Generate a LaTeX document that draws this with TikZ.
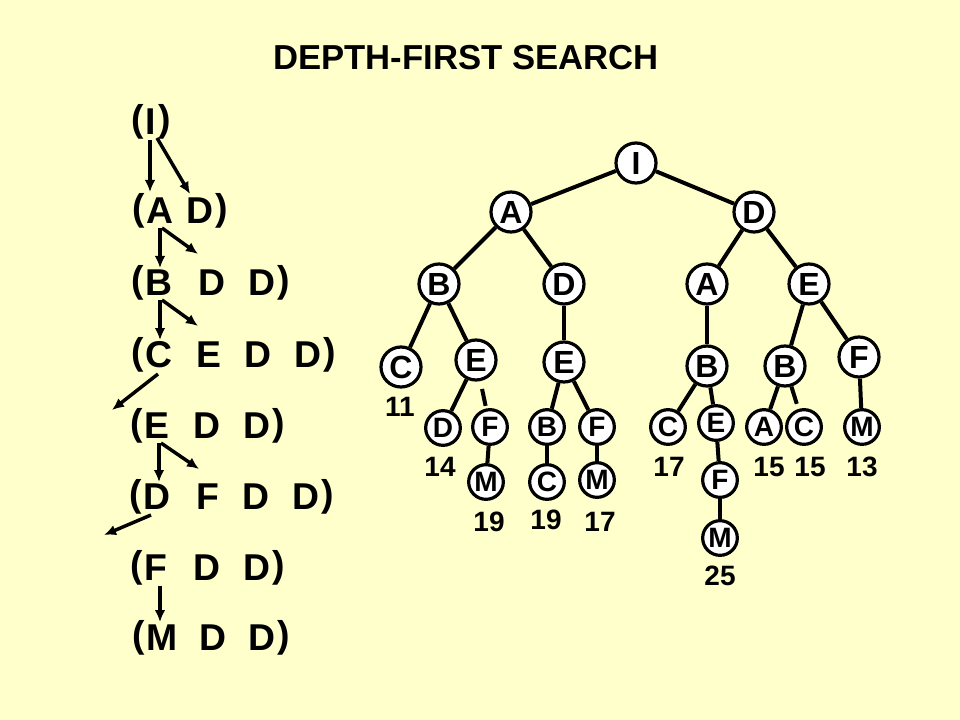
\documentclass[tikz,border=0pt]{standalone}
\usepackage{fontspec}
\setmainfont{Liberation Sans}
\usetikzlibrary{arrows.meta}
\begin{document}
\begin{tikzpicture}[x=0.75pt,y=-0.75pt,
 tn/.style={circle,draw,line width=2.4pt,fill=white,inner sep=0pt,minimum size=30pt,font=\bfseries\fontsize{24}{24}\selectfont},
 sn/.style={tn,minimum size=26pt,font=\bfseries\fontsize{21}{21}\selectfont},
 num/.style={font=\bfseries\fontsize{21}{21}\selectfont},
 lt/.style={font=\bfseries\fontsize{28}{28}\selectfont,inner sep=0pt},
 pl/.style={lt,anchor=east,xshift=-1pt},
 pr/.style={lt,anchor=west,xshift=1pt},
 ed/.style={line width=3pt},
 ar/.style={line width=2.6pt,-{Latex[length=9pt,width=8pt]}}]
\fill[fill={rgb,255:red,255;green,255;blue,204}] (0,0) rectangle (960,720);
\useasboundingbox (0,0) rectangle (960,720);
\node[font=\bfseries\fontsize{26}{26}\selectfont] (title) at (466,58) {DEPTH-FIRST SEARCH};
% tree
\node[tn] (I) at (636,163) {I};
\node[tn] (A) at (511,212) {A};
\node[tn] (D) at (754,212) {D};
\node[tn] (B) at (439,284) {B};
\node[tn] (D2) at (564,284) {D};
\node[tn] (A2) at (707,284) {A};
\node[tn] (E) at (809,284) {E};
\node[tn] (C) at (401,367) {C};
\node[tn] (E2) at (476,360) {E};
\node[tn] (E3) at (564,362) {E};
\node[tn] (B2) at (707,366) {B};
\node[tn] (B3) at (785,366) {B};
\node[tn] (F) at (859,357) {F};
\node[sn] (D3) at (443,428) {D};
\node[sn] (F2) at (490,427) {F};
\node[sn] (B4) at (547,427) {B};
\node[sn] (F3) at (597,427) {F};
\node[sn] (C2) at (668,427) {C};
\node[sn] (E4) at (716,423) {E};
\node[sn] (A3) at (764,427) {A};
\node[sn] (C3) at (804,427) {C};
\node[sn] (M) at (862,427) {M};
\node[sn] (M2) at (486,482) {M};
\node[sn] (C4) at (547,482) {C};
\node[sn] (M3) at (597,480) {M};
\node[sn] (F4) at (720,480) {F};
\node[sn] (M4) at (720,538) {M};
\foreach \a/\b in {I/A,I/D,A/B,A/D2,D/A2,D/E,B/C,B/E2,D2/E3,A2/B2,E/B3,E/F,E2/D3,E3/B4,E3/F3,B2/C2,B2/E4,B3/A3,F/M,F2/M2,B4/C4,F3/M3,E4/F4,F4/M4}
  \draw[ed] (\a) -- (\b);
\draw[ed,shorten <=6pt,shorten >=2pt] (E2) -- (F2);
\draw[ed,shorten >=4pt] (B3) -- (C3);
\node[num] (n1) at (400,407) {11};
\node[num] (n2) at (440,467) {14};
\node[num] (n3) at (489,522) {19};
\node[num] (n4) at (546,520) {19};
\node[num] (n5) at (600,522) {17};
\node[num] (n6) at (669,467) {17};
\node[num] (n7) at (769,467) {15};
\node[num] (n8) at (810,467) {15};
\node[num] (n9) at (862,467) {13};
\node[num] (n10) at (720,576) {25};
% list
\node[lt] (r1a) at (151,122) {I};
\node[pl] (p1) at (r1a.west) {(};
\node[pr] (q1) at (r1a.east) {)};
\node[lt] (r2a) at (160,211) {A};
\node[lt] (r2b) at (200,211) {D};
\node[pl] (p2) at (r2a.west) {(};
\node[pr] (q2) at (r2b.east) {)};
\node[lt] (r3a) at (159,283) {B};
\node[lt] (r3b) at (212,283) {D};
\node[lt] (r3c) at (262,283) {D};
\node[pl] (p3) at (r3a.west) {(};
\node[pr] (q3) at (r3c.east) {)};
\node[lt] (r4a) at (159,355) {C};
\node[lt] (r4b) at (209,355) {E};
\node[lt] (r4c) at (258,355) {D};
\node[lt] (r4d) at (308,355) {D};
\node[pl] (p4) at (r4a.west) {(};
\node[pr] (q4) at (r4d.east) {)};
\node[lt] (r5a) at (157,426) {E};
\node[lt] (r5b) at (207,426) {D};
\node[lt] (r5c) at (257,426) {D};
\node[pl] (p5) at (r5a.west) {(};
\node[pr] (q5) at (r5c.east) {)};
\node[lt] (r6a) at (157,497) {D};
\node[lt] (r6b) at (208,497) {F};
\node[lt] (r6c) at (256,497) {D};
\node[lt] (r6d) at (306,497) {D};
\node[pl] (p6) at (r6a.west) {(};
\node[pr] (q6) at (r6d.east) {)};
\node[lt] (r7a) at (156,568) {F};
\node[lt] (r7b) at (207,568) {D};
\node[lt] (r7c) at (257,568) {D};
\node[pl] (p7) at (r7a.west) {(};
\node[pr] (q7) at (r7c.east) {)};
\node[lt] (r8a) at (162,638) {M};
\node[lt] (r8b) at (213,638) {D};
\node[lt] (r8c) at (262,638) {D};
\node[pl] (p8) at (r8a.west) {(};
\node[pr] (q8) at (r8c.east) {)};
\coordinate (x1) at (112,410);
\coordinate (x2) at (104,535);
\draw[ar] (150,140) -- (150,192);
\draw[ar] (157,138) -- (190,194);
\draw[ar] (160,228) -- (160,268);
\draw[ar] (162,228) -- (198,254);
\draw[ar] (160,300) -- (160,340);
\draw[ar] (162,300) -- (198,326);
\draw[ar] (158,374) -- (x1);
\draw[ar] (159,443) -- (159,482);
\draw[ar] (161,443) -- (199,469);
\draw[ar] (151,515) -- (x2);
\draw[ar] (160,586) -- (160,622);
\end{tikzpicture}
\end{document}
